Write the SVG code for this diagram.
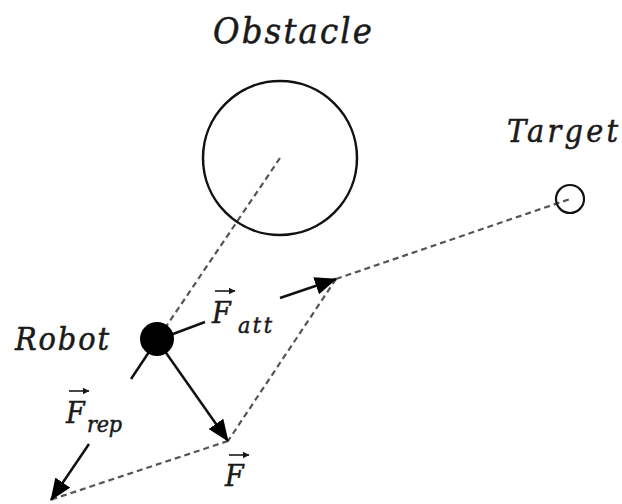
<svg xmlns="http://www.w3.org/2000/svg" width="622" height="504" viewBox="0 0 622 504">
<style>
.lbl{font-family:"DejaVu Serif Condensed","DejaVu Serif","Liberation Serif",serif;font-style:italic;fill:#1a1a1a;stroke:#1a1a1a;stroke-width:0.5}
.dash{stroke:#555;stroke-width:2.2;stroke-dasharray:6 4;fill:none}
.solid{stroke:#111;stroke-width:2.5;fill:none}
.vec{stroke:#1a1a1a;stroke-width:1.6;fill:none}
</style>
<defs>
<marker id="ah" markerUnits="userSpaceOnUse" markerWidth="22" markerHeight="18" refX="21" refY="9" orient="auto">
<path d="M0,0 L22,9 L0,18 Z" fill="#000"/>
</marker>
<marker id="sm" markerUnits="userSpaceOnUse" markerWidth="7" markerHeight="7" refX="6.5" refY="3.5" orient="auto">
<path d="M0,0 L7,3.5 L0,7 Z" fill="#1a1a1a"/>
</marker>
</defs>
<rect width="622" height="504" fill="#fff"/>
<g id="connectors">
<line class="dash" x1="280" y1="158" x2="157" y2="340"/>
<line class="dash" x1="336" y1="279" x2="570" y2="199"/>
<line class="dash" x1="336" y1="279" x2="228" y2="441"/>
<line class="dash" x1="228" y1="441" x2="50" y2="500"/>
<line class="solid" x1="157" y1="340" x2="131" y2="379"/>
<line class="solid" x1="89" y1="444" x2="51" y2="500" marker-end="url(#ah)"/>
<line class="solid" x1="157" y1="340" x2="205" y2="322"/>
<line class="solid" x1="280" y1="298" x2="336" y2="279" marker-end="url(#ah)"/>
<line class="solid" x1="157" y1="340" x2="228" y2="441" marker-end="url(#ah)"/>
</g>
<g id="obstacle">
<circle cx="280" cy="158" r="77" fill="none" stroke="#111" stroke-width="2.5"/>
<text class="lbl" x="213" y="43" font-size="36" textLength="159">Obstacle</text>
</g>
<g id="target">
<circle cx="570" cy="199" r="14" fill="none" stroke="#111" stroke-width="2.2"/>
<text class="lbl" x="507" y="142" font-size="32" textLength="111">Target</text>
</g>
<g id="robot">
<circle cx="157" cy="339" r="17" fill="#000"/>
<text class="lbl" x="15" y="350" font-size="32" textLength="94">Robot</text>
</g>
<g id="label-fatt">
<text class="lbl" x="212" y="323" font-size="30">F</text>
<text class="lbl" x="238" y="333" font-size="23" textLength="34">att</text>
<line class="vec" x1="215" y1="291" x2="235" y2="291" marker-end="url(#sm)"/>
</g>
<g id="label-frep">
<text class="lbl" x="66" y="423" font-size="30">F</text>
<text class="lbl" x="87" y="432" font-size="23" textLength="35">rep</text>
<line class="vec" x1="69" y1="391" x2="89" y2="391" marker-end="url(#sm)"/>
</g>
<g id="label-f">
<text class="lbl" x="225" y="486" font-size="30">F</text>
<line class="vec" x1="229" y1="455" x2="249" y2="455" marker-end="url(#sm)"/>
</g>
</svg>
